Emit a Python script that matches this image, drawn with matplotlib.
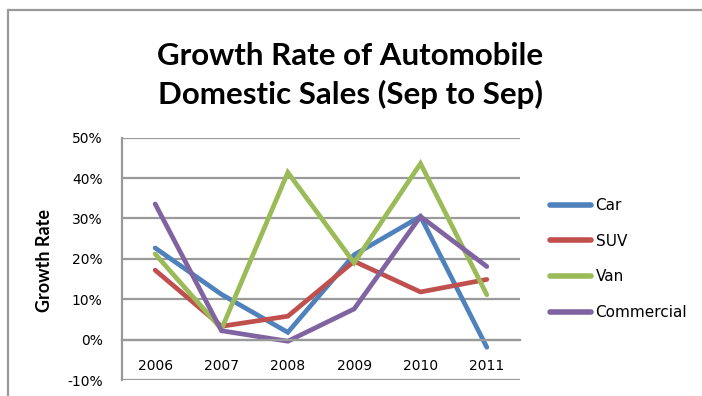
import matplotlib
matplotlib.use("Agg")
import matplotlib.pyplot as plt
from matplotlib.lines import Line2D
from matplotlib.ticker import FuncFormatter

years = ["2006", "2007", "2008", "2009", "2010", "2011"]
car = [0.227, 0.112, 0.018, 0.210, 0.305, -0.019]
suv = [0.172, 0.033, 0.058, 0.194, 0.118, 0.149]
van = [0.212, 0.026, 0.414, 0.190, 0.436, 0.111]
commercial = [0.336, 0.022, -0.004, 0.076, 0.305, 0.181]

series = [("Car", car, "#4F81BD"),
          ("SUV", suv, "#C0504D"),
          ("Van", van, "#9BBB59"),
          ("Commercial", commercial, "#8064A2")]

W, H = 702, 396
fig = plt.figure(figsize=(W / 100, H / 100), dpi=100)

# chart frame: only the top and left edges are inside the crop
frame = "#9a9a9a"
fig.lines.append(Line2D([8 / W, 8 / W], [0, (H - 10) / H], transform=fig.transFigure,
                        color=frame, linewidth=1.6))
fig.lines.append(Line2D([8 / W, 1.01], [(H - 10) / H, (H - 10) / H],
                        transform=fig.transFigure, color=frame, linewidth=1.6,
                        solid_capstyle="butt"))

ax = fig.add_axes([122 / W, (H - 380) / H, (520 - 122) / W, (380 - 137.7) / H])
x = range(len(years))
for name, vals, col in series:
    ax.plot(x, vals, color=col, linewidth=3.4, label=name,
            solid_capstyle="round", solid_joinstyle="miter")

ax.set_xlim(-0.5, len(years) - 0.5)
ax.set_ylim(-0.10, 0.50)
ax.set_yticks([-0.1, 0, 0.1, 0.2, 0.3, 0.4, 0.5])
ax.yaxis.set_major_formatter(FuncFormatter(lambda v, p: f"{v * 100:.0f}%"))
ax.grid(axis="y", color=frame, linewidth=1.6)
ax.set_axisbelow(True)
ax.set_xticks(list(x))
ax.set_xticklabels(years)

for s in ["top", "right"]:
    ax.spines[s].set_visible(False)
ax.spines["left"].set_color(frame)
ax.spines["left"].set_linewidth(1.6)
ax.spines["bottom"].set_position(("data", 0))
ax.spines["bottom"].set_color(frame)
ax.spines["bottom"].set_linewidth(1.6)
ax.tick_params(axis="both", length=0, labelsize=10, colors="black")
ax.tick_params(axis="x", pad=14)
ax.tick_params(axis="y", pad=14)

fig.text(45 / W, (H - 260) / H, "Growth Rate", rotation=90, ha="center",
         va="center", fontsize=13, fontweight="bold", family="Lato")

fig.text(350 / W, (H - 56) / H, "Growth Rate of Automobile", ha="center",
         va="center", fontsize=22.5, fontweight="bold", family="Lato")
fig.text(350 / W, (H - 94) / H, "Domestic Sales (Sep to Sep)", ha="center",
         va="center", fontsize=22.5, fontweight="bold", family="Lato")

leg = ax.legend(loc="center left", bbox_to_anchor=(536 / W, (H - 259) / H),
                bbox_transform=fig.transFigure, frameon=False, fontsize=11,
                handlelength=2.7, handletextpad=0.3, labelspacing=1.35)
for line in leg.get_lines():
    line.set_linewidth(4)

fig.savefig("out.png", dpi=100)
